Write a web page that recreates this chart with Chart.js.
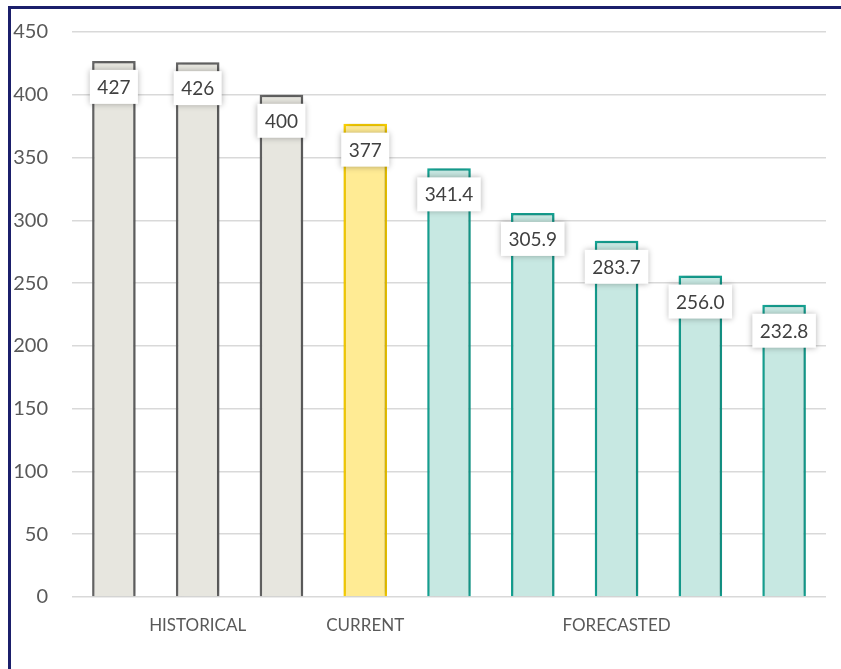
<!DOCTYPE html>
<html>
<head>
<meta charset="utf-8">
<script src="https://cdn.jsdelivr.net/npm/chart.js@4"></script>
<style>
  html, body { margin: 0; padding: 0; background: #fff; }
  #wrap { position: absolute; left: 0; top: 0; width: 841px; height: 669px; }
  #frame { position: absolute; left: 8px; top: 6px; right: -10px; bottom: -10px;
           border-top: 3px solid #1b1f6b; border-left: 3px solid #1b1f6b; pointer-events: none; }
</style>
</head>
<body>
<div id="wrap"><canvas id="chart"></canvas></div>
<div id="frame"></div>
<script>
// one entry per bar
const periods = ['H1', 'H2', 'H3', 'C1', 'F1', 'F2', 'F3', 'F4', 'F5'];
const groupLabels = ['', 'HISTORICAL', '', 'CURRENT', '', '', 'FORECASTED', '', ''];
const values = [427, 426, 400, 377, 341.4, 305.9, 283.7, 256.0, 232.8];
const valueLabels = ['427', '426', '400', '377', '341.4', '305.9', '283.7', '256.0', '232.8'];
const kinds = ['hist', 'hist', 'hist', 'cur', 'fc', 'fc', 'fc', 'fc', 'fc'];

const fills = { hist: '#e7e6df', cur: '#ffeb94', fc: '#c7e8e2' };
const edges = { hist: '#696969', cur: '#ffd400', fc: '#16a898' };

const FONT = 'Lato, "Open Sans", sans-serif';

// soft shadow behind the bars, like the office chart
const barShadow = {
  id: 'barShadow',
  beforeDatasetDraw(chart) {
    const ctx = chart.ctx;
    ctx.save();
    ctx.shadowColor = 'rgba(0,0,0,0.3)';
    ctx.shadowBlur = 7;
    ctx.shadowOffsetX = 1;
    ctx.shadowOffsetY = 0;
  },
  afterDatasetDraw(chart) {
    chart.ctx.restore();
  }
};

// white boxed value labels sitting just under each bar top
const boxLabels = {
  id: 'boxLabels',
  afterDatasetsDraw(chart) {
    const ctx = chart.ctx;
    const meta = chart.getDatasetMeta(0);
    ctx.save();
    ctx.font = '19px ' + FONT;
    ctx.textAlign = 'center';
    ctx.textBaseline = 'middle';
    meta.data.forEach((bar, i) => {
      const txt = valueLabels[i];
      const w = ctx.measureText(txt).width + 15;
      const h = 34;
      const x = bar.x - w / 2;
      const y = bar.y + 9;
      ctx.save();
      ctx.shadowColor = 'rgba(0,0,0,0.3)';
      ctx.shadowBlur = 6;
      ctx.fillStyle = '#ffffff';
      ctx.fillRect(x, y, w, h);
      ctx.restore();
      ctx.fillStyle = '#404040';
      ctx.fillText(txt, bar.x, y + h / 2 + 1);
    });
    ctx.restore();
  }
};

new Chart(document.getElementById('chart'), {
  type: 'bar',
  data: {
    labels: periods,
    datasets: [{
      data: values,
      backgroundColor: kinds.map(k => fills[k]),
      borderColor: kinds.map(k => edges[k]),
      borderWidth: 2.5,
      borderSkipped: 'bottom',
      barPercentage: 0.52,
      categoryPercentage: 1
    }]
  },
  options: {
    responsive: true,
    maintainAspectRatio: false,
    animation: false,
    layout: { padding: { top: 32, right: 15, left: 0, bottom: 0 } },
    plugins: {
      legend: { display: false },
      tooltip: { enabled: false }
    },
    scales: {
      x: {
        grid: { display: false, drawTicks: false },
        border: { display: false },
        ticks: {
          autoSkip: false,
          maxRotation: 0,
          padding: 18,
          color: '#595959',
          font: { family: FONT, size: 17 },
          callback: (v, i) => groupLabels[i]
        },
        afterFit: s => { s.height = 72; }
      },
      y: {
        min: 0,
        max: 450,
        ticks: {
          stepSize: 50,
          padding: 2,
          color: '#595959',
          font: { family: FONT, size: 20 }
        },
        grid: { color: '#d9d9d9', lineWidth: 1.5, drawTicks: true, tickLength: 22, tickColor: 'rgba(0,0,0,0)' },
        border: { display: false },
        afterFit: s => { s.width = 72; }
      }
    }
  },
  plugins: [barShadow, boxLabels]
});
</script>
</body>
</html>
